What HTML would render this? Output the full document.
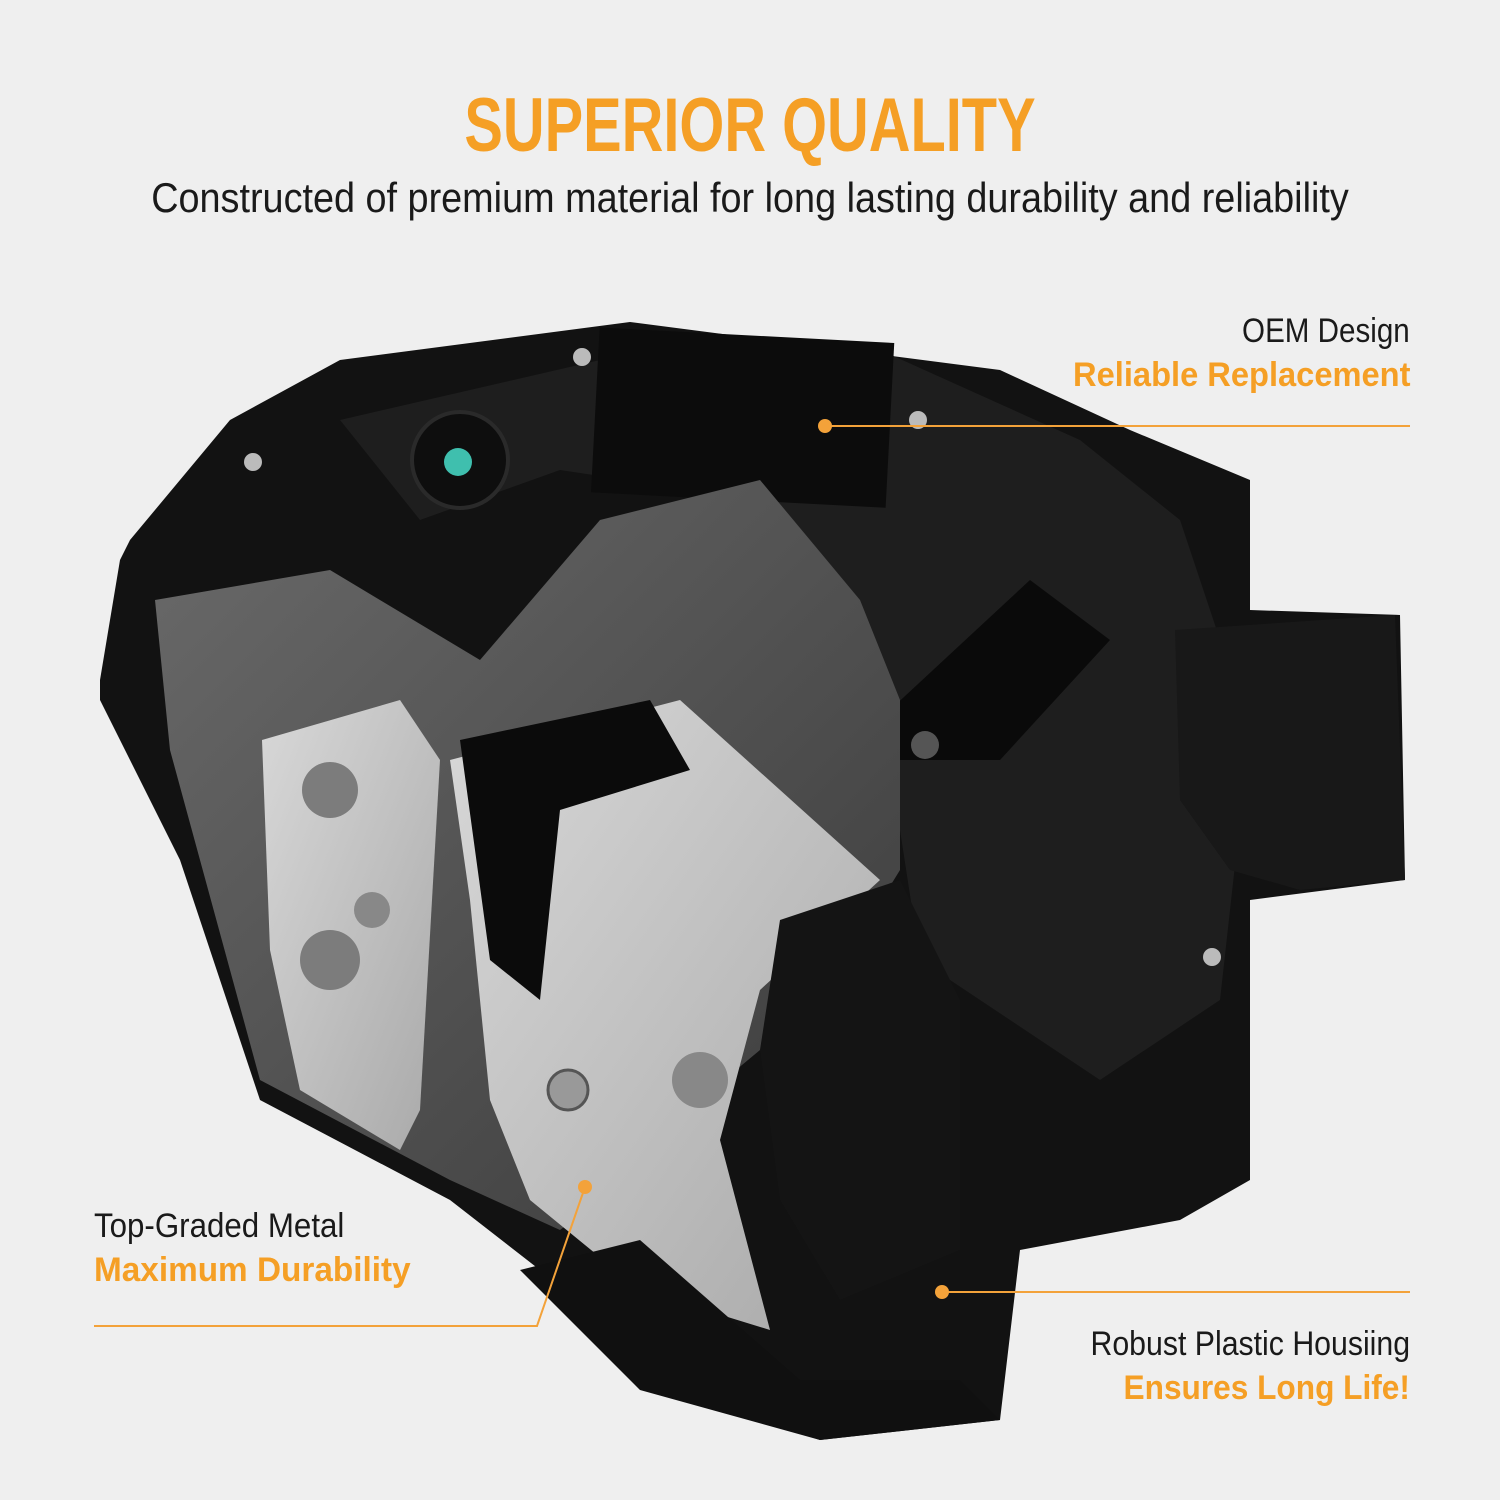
<!DOCTYPE html>
<html><head><meta charset="utf-8"><style>
html,body{margin:0;padding:0}
body{width:1500px;height:1500px;background:#efefef;position:relative;overflow:hidden;font-family:"Liberation Sans",sans-serif}
.t{position:absolute;white-space:nowrap}
.l{transform-origin:left center}
.r{transform-origin:right center}
</style></head><body>
<svg width="1500" height="1500" style="position:absolute;left:0;top:0">
<defs>
<linearGradient id="met" x1="0" y1="0" x2="1" y2="1"><stop offset="0" stop-color="#d8d8d8"/><stop offset="1" stop-color="#a9a9a9"/></linearGradient>
<linearGradient id="br" x1="0" y1="0" x2="1" y2="1"><stop offset="0" stop-color="#6a6a6a"/><stop offset="1" stop-color="#3a3a3a"/></linearGradient>
</defs>
<polygon fill="#121212" points="130,540 230,420 340,360 630,322 1000,370 1130,430 1250,480 1250,610 1400,615 1405,880 1250,900 1250,1180 1180,1220 1020,1250 1000,1420 820,1440 640,1380 540,1270 450,1200 260,1100 180,860 100,700 100,680 120,560"/>
<polygon fill="#1e1e1e" points="340,420 600,360 880,350 1080,440 1180,520 1220,640 1240,820 1220,1000 1100,1080 920,960 880,700 760,500 560,470 420,520"/>
<rect x="595" y="335" width="295" height="165" fill="#0c0c0c" transform="rotate(3 740 420)"/>
<polygon fill="#181818" points="1175,630 1395,615 1405,880 1300,890 1230,870 1180,800"/>
<polygon fill="#0a0a0a" points="890,710 1030,580 1110,640 1000,760 900,760"/>
<polygon fill="url(#br)" points="155,600 330,570 480,660 600,520 760,480 860,600 900,700 900,870 820,1000 700,1100 600,1200 560,1230 450,1180 260,1080 170,750"/>
<polygon fill="url(#met)" points="262,740 400,700 440,760 420,1110 400,1150 300,1090 270,950"/>
<polygon fill="url(#met)" points="450,760 680,700 880,880 760,990 720,1140 770,1330 640,1290 530,1200 490,1100 470,900"/>
<polygon fill="#0b0b0b" points="460,740 650,700 690,770 560,810 540,1000 490,960"/>
<polygon fill="#141414" points="780,920 900,880 960,1000 960,1250 840,1300 780,1200 760,1050"/>
<polygon fill="#101010" points="520,1270 640,1240 800,1380 960,1380 1000,1420 820,1440 640,1390"/>
<circle cx="330" cy="790" r="28" fill="#7c7c7c"/><circle cx="330" cy="960" r="30" fill="#7c7c7c"/>
<circle cx="372" cy="910" r="18" fill="#888"/>
<circle cx="568" cy="1090" r="20" fill="#999" stroke="#555" stroke-width="3"/>
<circle cx="700" cy="1080" r="28" fill="#888"/>
<circle cx="460" cy="460" r="48" fill="#0e0e0e" stroke="#2a2a2a" stroke-width="4"/>
<circle cx="458" cy="462" r="14" fill="#3fbfae"/>
<circle cx="582" cy="357" r="9" fill="#bbb"/><circle cx="918" cy="420" r="9" fill="#bbb"/><circle cx="253" cy="462" r="9" fill="#bbb"/><circle cx="1212" cy="957" r="9" fill="#bbb"/>
<circle cx="925" cy="745" r="14" fill="#555"/>
<g stroke="#f3a23a" stroke-width="2" fill="none">
<line x1="825" y1="426" x2="1410" y2="426"/>
<polyline points="94,1326 537,1326 585,1187"/>
<line x1="942" y1="1292" x2="1410" y2="1292"/>
</g>
<g fill="#f3a23a"><circle cx="825" cy="426" r="7"/><circle cx="585" cy="1187" r="7"/><circle cx="942" cy="1292" r="7"/></g>
</svg>
<div class="t" style="left:0;width:1500px;text-align:center;top:82px;font-weight:bold;font-size:76px;color:#f59f25;transform:scaleX(0.76)">SUPERIOR QUALITY</div>
<div class="t" style="left:0;width:1500px;text-align:center;top:174px;font-size:42px;color:#1a1a1a;transform:scaleX(0.9)">Constructed of premium material for long lasting durability and reliability</div>
<div class="t r" style="right:90px;top:312px;font-size:34px;color:#1a1a1a;transform:scaleX(0.87)">OEM Design</div>
<div class="t r" style="right:90px;top:356px;font-weight:bold;font-size:34px;color:#f59f25;transform:scaleX(0.96)">Reliable Replacement</div>
<div class="t l" style="left:94px;top:1207px;font-size:34px;color:#1a1a1a;transform:scaleX(0.92)">Top-Graded Metal</div>
<div class="t l" style="left:94px;top:1251px;font-weight:bold;font-size:34px;color:#f59f25;transform:scaleX(0.98)">Maximum Durability</div>
<div class="t r" style="right:90px;top:1325px;font-size:34px;color:#1a1a1a;transform:scaleX(0.89)">Robust Plastic Housiing</div>
<div class="t r" style="right:90px;top:1369px;font-weight:bold;font-size:34px;color:#f59f25;transform:scaleX(0.93)">Ensures Long Life!</div>
</body></html>
